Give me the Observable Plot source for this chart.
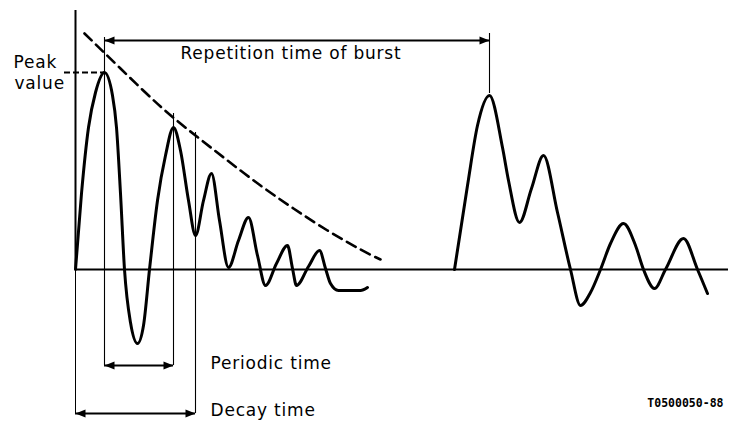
<!DOCTYPE html>
<html>
<head>
<meta charset="utf-8">
<script src="https://cdn.jsdelivr.net/npm/d3@7"></script>
<script src="https://cdn.jsdelivr.net/npm/@observablehq/plot@0.6"></script>
<style>
  html, body { margin: 0; padding: 0; background: #fff; }
</style>
</head>
<body>
<div id="chart"></div>
<script>
// Time (horizontal units) and amplitude of the first burst (damped oscillation)
const burst1Time = [0, 6, 13, 20, 29, 37, 41, 45, 49, 55, 62, 68, 74, 82, 90, 98, 105, 113, 120, 128, 136, 144, 153, 163, 173, 182, 190, 201, 212, 217, 221, 233, 244, 250, 255, 263, 285, 292];
const burst1Amp  = [0, 76, 142, 177, 197, 174, 142, 76, 0, -53, -74, -56, 0, 69, 114, 142, 119, 69, 34, 69, 96, 49, 2, 29, 52, 14, -16, 6, 24, 1, -16, 3, 19, 1, -14, -21, -21, -18];

// Second (repeated) burst
const burst2Time = [379, 392, 402, 414, 427, 433, 444, 456, 468, 482, 495, 505, 515, 525, 535, 548, 560, 568, 579, 590, 608, 622, 632];
const burst2Amp  = [0, 84, 144, 174, 122, 89, 47, 81, 114, 57, 0, -36, -23, 0, 26, 46, 24, 0, -19, 0, 31, 0, -24];

// Decay envelope (dashed)
const envTime = [9, 45, 85, 120, 152, 185, 218, 252, 285, 305];
const envAmp  = [236, 201, 163, 134, 109, 84, 61, 39, 20, 10];

// Peak value and marker lines
const peakValue = 197;
const peakValueFrom = -11;
const markTime   = [29, 98, 120, 414];
const markTop    = [232, 156, 137, 236];
const markBottom = [-96, -96, -144, 176];
const axisTop = 259, axisBottom = -144, baselineEnd = 653;

// Dimension arrows
const arrowNames = ["Repetition time of burst", "Periodic time", "Decay time"];
const arrowFrom  = [29, 29, 0];
const arrowTo    = [414, 98, 120];
const arrowLevel = [229, -96, -144];

// Labels
const labelText = ["Repetition time of burst", "Peak", "value", "Periodic time", "Decay time"];
const labelTime = [105, -62, -61, 135, 135];
const labelAmp  = [211, 202, 181, -99, -146];
const captionText = "T0500050-88";
const captionTime = 648, captionAmp = -137;

const b1 = burst1Time.map((t, i) => ({t, a: burst1Amp[i]}));
const b2 = burst2Time.map((t, i) => ({t, a: burst2Amp[i]}));
const env = envTime.map((t, i) => ({t, a: envAmp[i]}));
const marks = markTime.map((t, i) => ({t, a1: markTop[i], a2: markBottom[i]}));
const arrows = arrowNames.map((n, i) => ({n, t1: arrowFrom[i], t2: arrowTo[i], a: arrowLevel[i]}));
const heads = arrows.flatMap(d => [{t: d.t1, a: d.a, rot: 180}, {t: d.t2, a: d.a, rot: 0}]);
const labels = labelText.map((s, i) => ({s, t: labelTime[i], a: labelAmp[i]}));

const head = {
  draw(ctx) {
    ctx.moveTo(0, 0);
    ctx.lineTo(-10, -4);
    ctx.lineTo(-10, 4);
    ctx.closePath();
  }
};

const chart = Plot.plot({
  width: 729,
  height: 421,
  margin: 0,
  x: {type: "linear", domain: [-75, 654], range: [0, 729], axis: null},
  y: {type: "linear", domain: [269, -152], range: [0, 421], axis: null},
  style: {fontFamily: "'DejaVu Sans', sans-serif", letterSpacing: "0.8px", background: "#fff", color: "#000"},
  marks: [
    // axes
    Plot.ruleX([0], {y1: 0, y2: axisTop, stroke: "#000", strokeWidth: 2}),
    Plot.ruleX([0], {y1: axisBottom, y2: 0, stroke: "#000", strokeWidth: 1}),
    Plot.ruleY([0], {x1: 0, x2: baselineEnd, stroke: "#000", strokeWidth: 2}),
    // marker lines
    Plot.ruleX(marks, {x: "t", y1: "a1", y2: "a2", stroke: "#000", strokeWidth: 1.1}),
    // peak value dashed
    Plot.ruleY([peakValue], {x1: peakValueFrom, x2: 29, stroke: "#000", strokeWidth: 2, strokeDasharray: "6,3"}),
    // envelope
    Plot.line(env, {x: "t", y: "a", curve: "natural", stroke: "#000", strokeWidth: 2.6, strokeDasharray: "10,6"}),
    // bursts
    Plot.line(b1, {x: "t", y: "a", curve: "monotone-x", stroke: "#000", strokeWidth: 3, strokeLinejoin: "round"}),
    Plot.line(b2, {x: "t", y: "a", curve: "monotone-x", stroke: "#000", strokeWidth: 3, strokeLinejoin: "round"}),
    // arrows
    Plot.ruleY(arrows, {y: "a", x1: "t1", x2: "t2", stroke: "#000", strokeWidth: 1.8}),
    Plot.dot(heads, {x: "t", y: "a", symbol: head, rotate: "rot", fill: "#000", stroke: "none"}),
    // labels
    Plot.text(labels, {x: "t", y: "a", text: "s", textAnchor: "start", lineAnchor: "bottom", fontSize: 17, fill: "#000"}),
    Plot.text([captionText], {x: captionTime, y: captionAmp, text: d => d, textAnchor: "end", lineAnchor: "bottom", fontSize: 11.5, fontWeight: "bold", fontFamily: "'DejaVu Sans Mono', monospace", fill: "#000"})
  ]
});
d3.select(chart).selectAll("text").filter(function() { return this.textContent === captionText; }).style("letter-spacing", "0px");
document.getElementById("chart").appendChild(chart);
</script>
</body>
</html>
